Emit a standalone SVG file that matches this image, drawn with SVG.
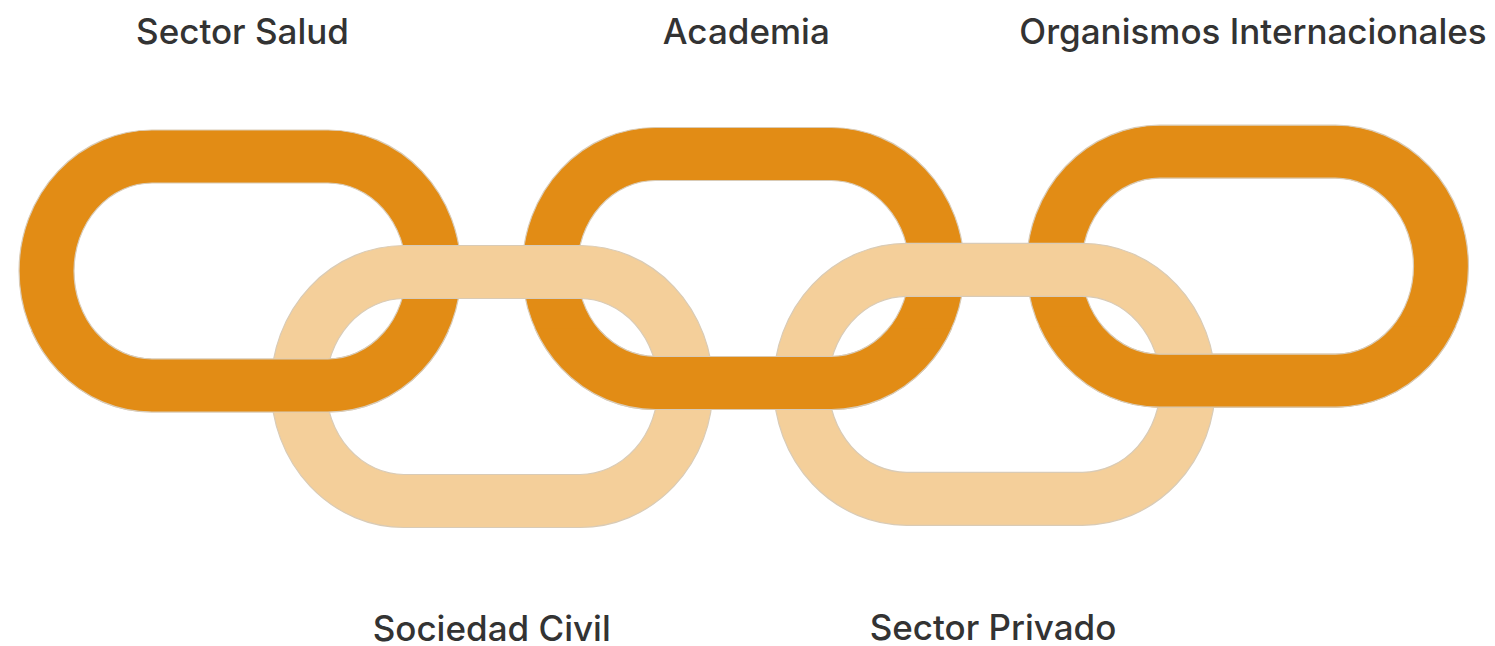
<svg xmlns="http://www.w3.org/2000/svg" xmlns:xlink="http://www.w3.org/1999/xlink" width="1495" height="646" viewBox="0 0 1495 646">
  <style>
    .label { font-family: Inter, "Liberation Sans", sans-serif; font-size: 35px; font-weight: 500; fill: #333333; text-anchor: middle; }
    .dark { fill: #E28C15; stroke: #D9CBB6; stroke-width: 1.2; fill-rule: evenodd; }
    .light { fill: #F4CF9A; stroke: #D9CBB6; stroke-width: 1.2; fill-rule: evenodd; }
  </style>
  <defs>
    <!-- one chain link, centred on the origin: outer stadium minus inner stadium -->
    <path id="ring" d="M -88,-141 H 88 A 133 141 0 0 1 88,141 H -88 A 133 141 0 0 1 -88,-141 Z
                       M -88,-88 H 88 A 78 88 0 0 1 88,88 H -88 A 78 88 0 0 1 -88,-88 Z"/>
    <!-- lower part of a top-row link, which passes in front of the bottom-row links -->
    <clipPath id="lower-half" clipPathUnits="userSpaceOnUse">
      <rect x="-240" y="60" width="480" height="100"/>
    </clipPath>
  </defs>

  <rect width="1495" height="646" fill="#FFFFFF"/>

  <!-- top row links -->
  <g id="sector-salud">
    <use xlink:href="#ring" class="dark" transform="translate(240,271)"/>
    <text class="label" x="242.5" y="44.3">Sector Salud</text>
  </g>
  <g id="academia">
    <use xlink:href="#ring" class="dark" transform="translate(743.3,268.5)"/>
    <text class="label" x="746.3" y="44.3">Academia</text>
  </g>
  <g id="organismos-internacionales">
    <use xlink:href="#ring" class="dark" transform="translate(1247.5,266.2)"/>
    <text class="label" x="1253" y="44.3">Organismos Internacionales</text>
  </g>

  <!-- bottom row links -->
  <g id="sociedad-civil">
    <use xlink:href="#ring" class="light" transform="translate(492,386.5)"/>
    <text class="label" x="491.7" y="640.5">Sociedad Civil</text>
  </g>
  <g id="sector-privado">
    <use xlink:href="#ring" class="light" transform="translate(994.5,384.3)"/>
    <text class="label" x="993" y="640">Sector Privado</text>
  </g>

  <!-- interlocking: lower bars of the top-row links are drawn over the bottom-row links -->
  <g id="crossings">
    <g transform="translate(240,271)"><use xlink:href="#ring" class="dark" clip-path="url(#lower-half)"/></g>
    <g transform="translate(743.3,268.5)"><use xlink:href="#ring" class="dark" clip-path="url(#lower-half)"/></g>
    <g transform="translate(1247.5,266.2)"><use xlink:href="#ring" class="dark" clip-path="url(#lower-half)"/></g>
  </g>
</svg>
